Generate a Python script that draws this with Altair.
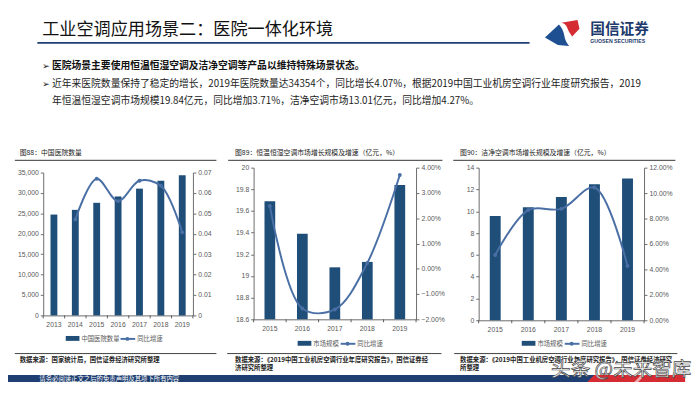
import altair as alt
import pandas as pd

# ---------------- texts ----------------
TITLE = "工业空调应用场景二：医院一体化环境"
BULLET1 = "医院场景主要使用恒温恒湿空调及洁净空调等产品以维持特殊场景状态。"
BULLET2A = "近年来医院数量保持了稳定的增长，2019年医院数量达34354个，同比增长4.07%，根据2019中国工业机房空调行业年度研究报告，2019"
BULLET2B = "年恒温恒湿空调市场规模19.84亿元，同比增加3.71%，洁净空调市场13.01亿元，同比增加4.27%。"
LOGO_CN = "国信证券"
LOGO_EN = "GUOSEN SECURITIES"
BANNER = "请务必阅读正文之后的免责声明及其项下所有内容"
WATERMARK = "头条 @未来智库"
LINE_NAME = "同比增速"

# ---------------- panel 1 ----------------
p1_title = "图88：中国医院数量"
p1_years = ["2013", "2014", "2015", "2016", "2017", "2018", "2019"]
p1_bars = [24709, 25860, 27587, 29140, 31056, 33009, 34354]
p1_growth = [None, 0.047, 0.067, 0.056, 0.066, 0.0635, 0.0407]
p1_bar_name = "中国医院数量"
p1_source = ["数据来源：国家统计局，国信证券经济研究所整理"]
p1_left_ticks = [0, 5000, 10000, 15000, 20000, 25000, 30000, 35000]
p1_right_ticks = [0, 0.01, 0.02, 0.03, 0.04, 0.05, 0.06, 0.07]

# ---------------- panel 2 ----------------
p2_title = "图89：恒温恒湿空调市场增长规模及增速（亿元，%）"
p2_years = ["2015", "2016", "2017", "2018", "2019"]
p2_bars = [19.69, 19.39, 19.08, 19.13, 19.84]
p2_growth = [0.0248, -0.0157, -0.0161, 0.0023, 0.0371]
p2_bar_name = "市场规模"
p2_source = ["数据来源：《2019中国工业机房空调行业年度研究报告》，国信证券经", "济研究所整理"]
p2_left_ticks = [18.6, 18.8, 19.0, 19.2, 19.4, 19.6, 19.8, 20.0]
p2_right_ticks = [-0.02, -0.01, 0.0, 0.01, 0.02, 0.03, 0.04]

# ---------------- panel 3 ----------------
p3_title = "图90：洁净空调市场增长规模及增速（亿元，%）"
p3_years = ["2015", "2016", "2017", "2018", "2019"]
p3_bars = [9.56, 10.37, 11.31, 12.47, 13.01]
p3_growth = [0.0513, 0.0867, 0.0876, 0.1044, 0.0427]
p3_bar_name = "市场规模"
p3_source = ["数据来源：《2019中国工业机房空调行业年度研究报告》，国信证券经济研究", "所整理"]
p3_left_ticks = [0, 2, 4, 6, 8, 10, 12, 14]
p3_right_ticks = [0, 0.02, 0.04, 0.06, 0.08, 0.10, 0.12]

# ---------------- styles ----------------
BAR = "#1f4e79"
LINE = "#4a6fa5"
AXC = "#595959"
NAVY = "#1f3f72"
RED = "#d52b32"
CJK = "Noto Sans CJK SC"
LAT = "Liberation Sans"

DUMMY = pd.DataFrame({"k": [0]})

ROW_TOP = 167          # page y of the panel row
OX = 8                 # page x of the decoration cell


def T(s, x, y, size, color="#222222", weight="normal", font=CJK, align="left", **kw):
    return alt.Chart(DUMMY).mark_text(
        text=s, fontSize=size, color=color, fontWeight=weight, font=font,
        align=align, baseline="middle", dx=x - OX, dy=y - ROW_TOP, **kw
    ).encode(x=alt.value(0), y=alt.value(0))


def HR(x1, x2, y, color, w=1.0):
    return alt.Chart(DUMMY).mark_rule(
        color=color, strokeWidth=w, xOffset=x1 - OX, x2Offset=x2 - OX, yOffset=y - ROW_TOP
    ).encode(x=alt.value(0), x2=alt.value(0), y=alt.value(0))


def RECT(x1, x2, y1, y2, color, opacity=1.0):
    return alt.Chart(DUMMY).mark_rect(
        color=color, opacity=opacity, xOffset=x1 - OX, x2Offset=x2 - OX,
        yOffset=y1 - ROW_TOP, y2Offset=y2 - ROW_TOP
    ).encode(x=alt.value(0), x2=alt.value(0), y=alt.value(0), y2=alt.value(0))


def SHAPE(path, x, y, color, opacity=1.0, size=4):
    return alt.Chart(DUMMY).mark_point(
        shape=path, size=size, filled=True, color=color, strokeWidth=0, opacity=opacity,
        xOffset=x - OX, yOffset=y - ROW_TOP
    ).encode(x=alt.value(0), y=alt.value(0))


def spacer(w, h=1):
    return alt.Chart(DUMMY).mark_text(text=" ").encode(
        x=alt.value(0), y=alt.value(0)).properties(width=w, height=h)


def legend(xr, y, bar_name, xl):
    return [
        RECT(xr, xr + 14, y - 3, y + 2, BAR),
        T(bar_name, xr + 16, y, 6.5, color=AXC),
        HR(xl, xl + 15, y, LINE, 2),
        SHAPE("circle", xl + 7, y, LINE, size=16),
        T(LINE_NAME, xl + 17, y, 6.5, color=AXC),
    ]


def panel(years, bars, growth, w, h, ldom, lticks, lfmt, rdom, rticks, rfmt,
          pad=0.68, yrange=None):
    df = pd.DataFrame({"year": years, "v": bars, "g": growth})
    step = w / len(years)
    xenc = alt.X(
        "year:N", sort=years,
        scale=alt.Scale(paddingInner=pad, paddingOuter=pad / 2),
        axis=alt.Axis(title=None, labelAngle=0, ticks=False, labelPadding=5),
    )
    lsc = dict(domain=ldom, nice=False, zero=False)
    rsc = dict(domain=rdom, nice=False, zero=False)
    if yrange is not None:
        lsc["range"] = yrange
        rsc["range"] = yrange
    bar = alt.Chart(df).mark_bar(color=BAR).encode(
        x=xenc,
        y=alt.Y("v:Q", scale=alt.Scale(**lsc),
                axis=alt.Axis(title=None, orient="left", values=lticks, format=lfmt)),
        y2=alt.datum(ldom[0]),
    )
    xt = alt.Chart(df).mark_rule(color=AXC, xOffset=-step / 2).encode(
        x=xenc, y=alt.value(h), y2=alt.value(h + 3))
    xt_end = alt.Chart(df).transform_filter(
        alt.datum.year == years[-1]).mark_rule(color=AXC, xOffset=step / 2).encode(
        x=xenc, y=alt.value(h), y2=alt.value(h + 3))
    yr = alt.Y("g:Q", scale=alt.Scale(**rsc),
               axis=alt.Axis(title=None, orient="right", values=rticks, format=rfmt))
    base = alt.Chart(df).transform_filter("isValid(datum.g)")
    ln = base.mark_line(color=LINE, strokeWidth=2, interpolate="catmull-rom").encode(x=xenc, y=yr)
    pt = base.mark_point(color=LINE, filled=True, size=16, opacity=1).encode(x=xenc, y=yr)
    return alt.layer(bar, xt, xt_end, alt.layer(ln, pt)).resolve_scale(
        y="independent").properties(width=w, height=h)


# ---------------- decoration (page coordinates) ----------------
blue_logo = "M -17.3 4 L -3 -9.3 C 0 -6 2 -2 2.5 2 C 3 6 5 10 7.5 12.7 L -4 11.7 Z"
red_logo = "M -0.5 -11 L 16 -14 L 18 -5 L 10.5 3 C 8.5 0 6.5 -3 5.5 -6 C 4.5 -9 2 -10.5 -0.5 -11 Z"

deco = [
    RECT(8, 692, 8, 386, "#ffffff"),
    T(TITLE, 43, 26, 17.5, color="#111111"),
    HR(38, 541, 39.5, NAVY, 2),
    SHAPE(blue_logo, 574, 30, "#1d4f91"),
    SHAPE(red_logo, 574, 30, RED),
    T(LOGO_CN, 603, 25, 15, color="#1d3b6c", weight="bold"),
    T(LOGO_EN, 603, 37.7, 5.3, color="#1d3b6c", weight="bold", font=LAT),
    T("➢", 43, 63, 9, color="#111111", font="DejaVu Sans"),
    T(BULLET1, 53, 63, 10, color="#111111", weight="bold"),
    T("➢", 43, 82, 9, color="#111111", font="DejaVu Sans"),
    T(BULLET2A, 53, 82, 10, color="#222222"),
    T(BULLET2B, 53, 99, 10, color="#222222"),
    T(p1_title, 20, 152, 7, color="#222222"),
    T(p2_title, 240, 152, 7, color="#222222"),
    T(p3_title, 470, 152, 7, color="#222222"),
    HR(15, 221, 159.5, "#333333", 1),
    HR(233, 452, 159.5, "#333333", 1),
    HR(463, 690, 159.5, "#333333", 1),
]
deco += legend(67, 342, p1_bar_name, 123)
deco += legend(304, 347, p2_bar_name, 348)
deco += legend(533, 347, p3_bar_name, 577)
deco += [
    HR(15, 221, 357, "#404040", 1),
    HR(232, 451, 357, "#404040", 1),
    HR(464, 692, 357, "#404040", 1),
]
for i, s in enumerate(p1_source):
    deco.append(T(s, 20, 364 + 8 * i, 6.5, color="#222222", weight="bold"))
for i, s in enumerate(p2_source):
    deco.append(T(s, 240, 364 + 8 * i, 6.5, color="#222222", weight="bold"))
for i, s in enumerate(p3_source):
    deco.append(T(s, 470, 364 + 8 * i, 6.5, color="#222222", weight="bold"))
deco += [
    RECT(8, 692, 379, 386, NAVY),
    SHAPE("M 0 7 L 7 0 L 100 0 L 100 7 Z", 600, 379, RED),
    SHAPE("M 0 7 L 7 0 L 11 0 L 4 7 Z", 648, 379, "#ffffff", 0.6),
    T(BANNER, 40, 383, 6.5, color="#ffffff"),
    T(WATERMARK, 563, 374, 20, color="#ffffff", stroke="#444444", strokeWidth=0.7),
]

deco_cell = alt.layer(*deco).properties(width=36, height=156)

# ---------------- panels ----------------
p1 = panel(p1_years, p1_bars, p1_growth, 153, 151, [0, 35000], p1_left_ticks, ",d",
           [0, 0.07], p1_right_ticks, ".2~f", pad=0.68, yrange=[151, 5])
p2 = panel(p2_years, p2_bars, p2_growth, 166, 155, [18.6, 20], p2_left_ticks, ".1~f",
           [-0.02, 0.04], p2_right_ticks, ".2%", pad=0.67)
p3 = panel(p3_years, p3_bars, p3_growth, 169, 156, [0, 14], p3_left_ticks, "d",
           [0, 0.12], p3_right_ticks, ".2%", pad=0.67)

chart = alt.hconcat(
    deco_cell, p1, spacer(62), p2, spacer(63.5), p3, spacing=0, bounds="flush"
).properties(padding=0).configure_view(stroke=None).configure_axis(
    labelFont=LAT, labelFontSize=7, labelColor=AXC, domainColor="#6b6b6b",
    tickColor="#6b6b6b", tickSize=3, grid=False, labelPadding=2,
)

chart.save("out.html", embed_options={"renderer": "svg", "actions": False})
